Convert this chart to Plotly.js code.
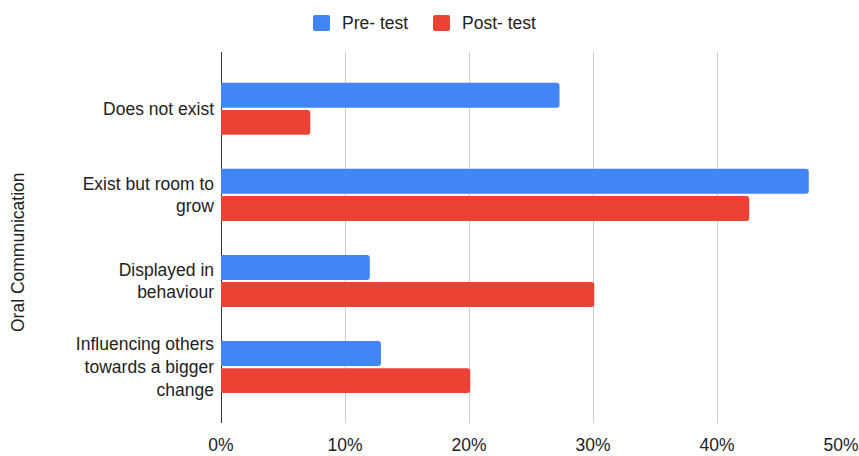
<!DOCTYPE html>
<html>
<head>
<meta charset="utf-8">
<script src="https://cdn.plot.ly/plotly-3.0.1.min.js"></script>
<style>
  html, body { margin: 0; padding: 0; background: #fff; }
  #chart { width: 859px; height: 456px; }
</style>
</head>
<body>
<div id="chart"></div>
<script>
// Oral communication levels, share of respondents before and after
const categories = [
  "Does not exist",
  "Exist but room to<br>grow",
  "Displayed in<br>behaviour",
  "Influencing others<br>towards a bigger<br>change"
];
const preTest = [0.273, 0.474, 0.120, 0.129];
const postTest = [0.072, 0.426, 0.301, 0.201];
const xTicks = [0, 0.1, 0.2, 0.3, 0.4, 0.5];
const seriesNames = ["Pre- test", "Post- test"];
const seriesColors = ["#4285F4", "#EA4335"];
const axisTitle = "Oral Communication";

const FONT = '"Liberation Sans", Arial, sans-serif';
const W = 859, H = 456;
const M = { l: 221, r: 18, t: 52, b: 33 };
const plotW = W - M.l - M.r;
const plotH = H - M.t - M.b;

// pixel position on the page -> paper fraction
const px = v => (v - M.l) / plotW;
const py = v => (H - M.b - v) / plotH;

const traces = [preTest, postTest].map((vals, i) => ({
  type: "bar",
  orientation: "h",
  name: seriesNames[i],
  y: categories,
  x: vals,
  marker: { color: seriesColors[i] },
  hoverinfo: "skip"
}));

// legend row at the top of the page: rounded swatch + label per series
const legendItems = [
  { swatchX: 313, textX: 340 },
  { swatchX: 433, textX: 460 }
];
const legendShapes = legendItems.map((it, i) => {
  const x0 = it.swatchX, x1 = it.swatchX + 17, y0 = 15, y1 = 31, r = 2;
  const path =
    `M ${px(x0 + r)} ${py(y0)} L ${px(x1 - r)} ${py(y0)} ` +
    `Q ${px(x1)} ${py(y0)} ${px(x1)} ${py(y0 + r)} L ${px(x1)} ${py(y1 - r)} ` +
    `Q ${px(x1)} ${py(y1)} ${px(x1 - r)} ${py(y1)} L ${px(x0 + r)} ${py(y1)} ` +
    `Q ${px(x0)} ${py(y1)} ${px(x0)} ${py(y1 - r)} L ${px(x0)} ${py(y0 + r)} ` +
    `Q ${px(x0)} ${py(y0)} ${px(x0 + r)} ${py(y0)} Z`;
  return {
    type: "path",
    xref: "paper",
    yref: "paper",
    path: path,
    fillcolor: seriesColors[i],
    line: { width: 0 },
    layer: "above"
  };
});
const legendLabels = legendItems.map((it, i) => ({
  text: seriesNames[i],
  xref: "paper",
  yref: "paper",
  x: px(it.textX),
  y: py(23.5),
  xanchor: "left",
  yanchor: "middle",
  showarrow: false,
  font: { family: FONT, size: 17.5, color: "#222" }
}));

const layout = {
  width: W,
  height: H,
  autosize: false,
  margin: { l: M.l, r: M.r, t: M.t, b: M.b, pad: 0 },
  paper_bgcolor: "#fff",
  plot_bgcolor: "#fff",
  font: { family: FONT, size: 17.5, color: "#222" },
  barmode: "group",
  bargap: 0.37,
  bargroupgap: 0.08,
  barcornerradius: 3,
  showlegend: false,
  xaxis: {
    range: [0, 0.5],
    tickvals: xTicks,
    tickformat: ".0%",
    showgrid: true,
    gridcolor: "#cccccc",
    gridwidth: 1,
    zeroline: true,
    zerolinecolor: "#333333",
    zerolinewidth: 1,
    showline: false,
    ticks: "",
    ticklabelstandoff: 9,
    fixedrange: true
  },
  yaxis: {
    type: "category",
    range: [3.65, -0.66],
    showgrid: false,
    zeroline: false,
    showline: false,
    ticks: "",
    ticklabelstandoff: 6,
    fixedrange: true
  },
  shapes: legendShapes,
  annotations: [
    {
      text: axisTitle,
      xref: "paper",
      yref: "paper",
      x: px(18),
      y: py(252),
      xanchor: "center",
      yanchor: "middle",
      textangle: -90,
      showarrow: false,
      font: { family: FONT, size: 17.5, color: "#222" }
    }
  ].concat(legendLabels)
};

Plotly.newPlot("chart", traces, layout, { displayModeBar: false, staticPlot: true });
</script>
</body>
</html>
